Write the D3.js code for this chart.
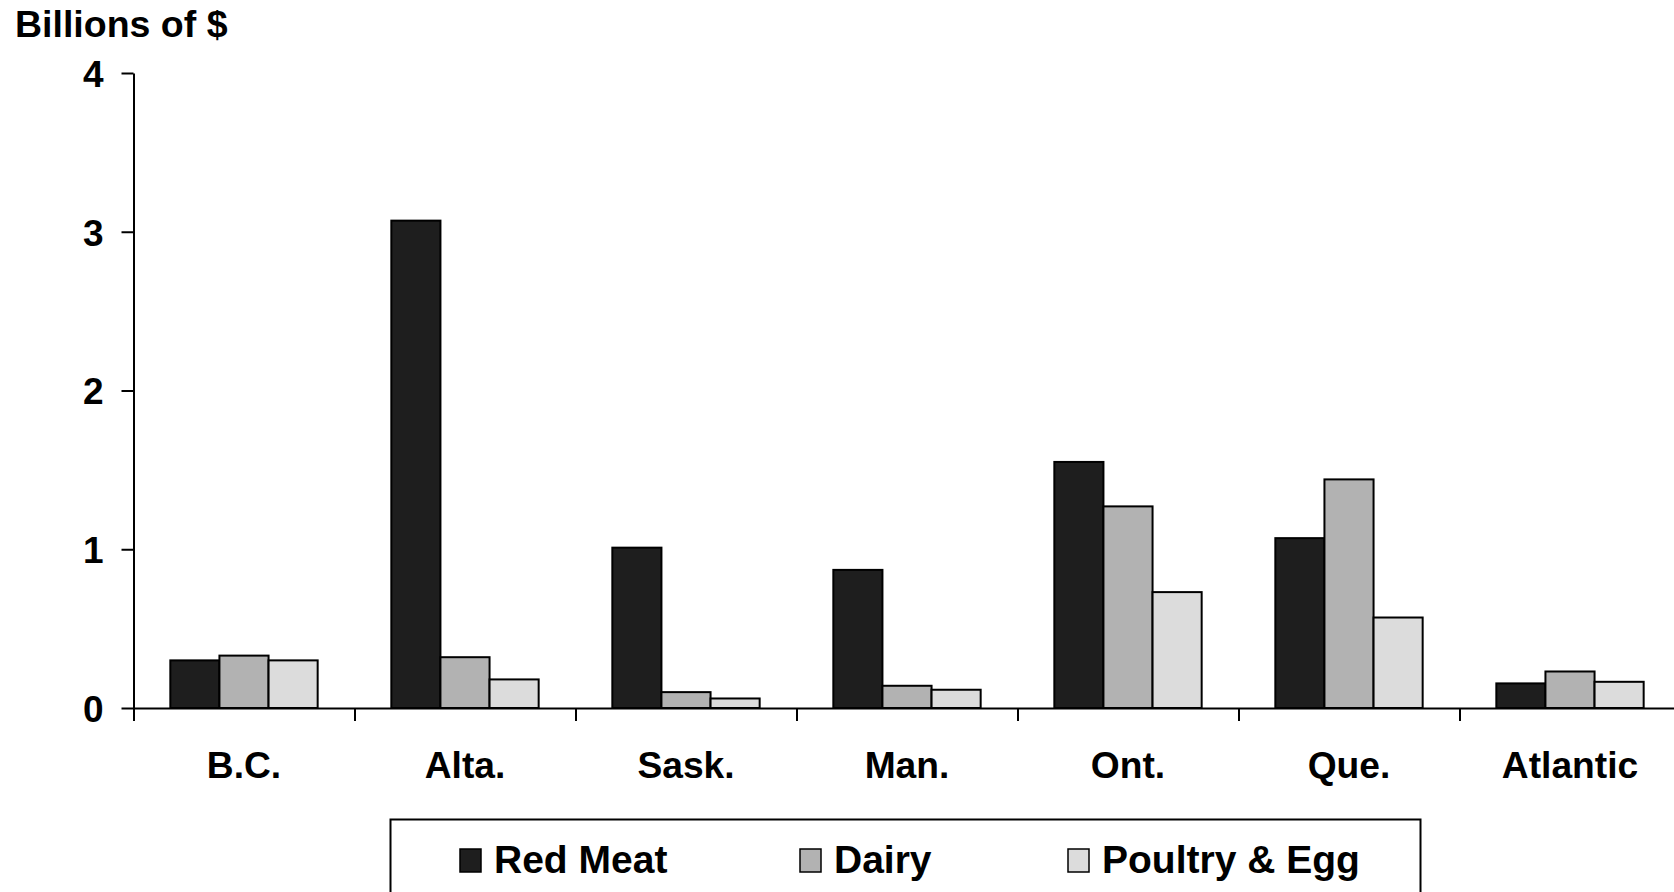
<!DOCTYPE html>
<html>
<head>
<meta charset="utf-8">
<script src="https://cdn.jsdelivr.net/npm/d3@7"></script>
<style>
  html, body { margin: 0; padding: 0; background: #fff; overflow: hidden; }
  svg { display: block; }
  text { font-family: "Liberation Sans", Arial, sans-serif; font-weight: bold; fill: #000; }
</style>
</head>
<body>
<svg id="chart" width="1674" height="892"></svg>
<script>
const categories = ["B.C.", "Alta.", "Sask.", "Man.", "Ont.", "Que.", "Atlantic"];
const seriesNames = ["Red Meat", "Dairy", "Poultry & Egg"];
const redMeat = [0.30, 3.07, 1.01, 0.87, 1.55, 1.07, 0.155];
const dairy   = [0.33, 0.32, 0.10, 0.14, 1.27, 1.44, 0.23];
const poultry = [0.30, 0.18, 0.06, 0.115, 0.73, 0.57, 0.165];
const yTicks = [0, 1, 2, 3, 4];
const yTitle = "Billions of $";
const colors = ["#1e1e1e", "#b2b2b2", "#dcdcdc"];

const seriesValues = [redMeat, dairy, poultry];

const svg = d3.select("#chart");
const plotLeft = 133.5, bandStep = 221, plotTop = 73, plotBottom = 708;
const plotRight = plotLeft + bandStep * categories.length;

const x0 = d3.scaleBand().domain(categories).range([plotLeft, plotRight]).padding(0);
const x1 = d3.scaleBand().domain(seriesNames).range([0, x0.bandwidth()]).paddingInner(0).paddingOuter(0.75);
const y = d3.scaleLinear().domain([0, 4]).range([plotBottom, plotTop]);
const xb = d3.scaleLinear().domain([0, categories.length]).range([plotLeft, plotRight]);

// bars
const groups = svg.append("g").selectAll("g")
  .data(categories)
  .join("g")
  .attr("transform", d => `translate(${x0(d)},0)`);

groups.selectAll("rect")
  .data((c, i) => seriesNames.map((s, j) => ({ s, j, v: seriesValues[j][i] })))
  .join("rect")
  .attr("x", d => x1(d.s))
  .attr("width", x1.bandwidth())
  .attr("y", d => y(d.v))
  .attr("height", d => y(0) - y(d.v))
  .attr("fill", d => colors[d.j])
  .attr("stroke", "#000")
  .attr("stroke-width", 2);

// y axis
const yAxis = svg.append("g")
  .attr("transform", `translate(${plotLeft},0)`)
  .call(d3.axisLeft(y).tickValues(yTicks).tickFormat(d3.format("d")).tickSize(12).tickSizeOuter(0).tickPadding(18));
yAxis.selectAll("path, line").attr("stroke", "#000").attr("stroke-width", 2);
yAxis.selectAll("text").attr("font-size", 37).attr("font-family", "'Liberation Sans', Arial, sans-serif").attr("font-weight", "bold").attr("fill", "#000").attr("dy", "0.36em");

// x axis (boundary ticks)
const xAxis = svg.append("g")
  .attr("transform", `translate(0,${plotBottom})`)
  .call(d3.axisBottom(xb).ticks(categories.length).tickFormat("").tickSize(13).tickSizeOuter(0));
xAxis.selectAll("path, line").attr("stroke", "#000").attr("stroke-width", 2);

// x labels
svg.append("g").selectAll("text")
  .data(categories)
  .join("text")
  .attr("x", d => x0(d) + x0.bandwidth() / 2)
  .attr("y", 778)
  .attr("text-anchor", "middle")
  .attr("font-size", 37.2)
  .text(d => d);

// y title
svg.append("text")
  .attr("x", 15)
  .attr("y", 37)
  .attr("font-size", 37.5)
  .text(yTitle);

// legend
const legend = svg.append("g");
legend.append("rect")
  .attr("x", 390.5).attr("y", 819.5)
  .attr("width", 1030).attr("height", 120)
  .attr("fill", "#fff").attr("stroke", "#000").attr("stroke-width", 2);
const legendX = [460, 800, 1068];
const items = legend.selectAll("g.item")
  .data(seriesNames)
  .join("g")
  .attr("class", "item")
  .attr("transform", (d, i) => `translate(${legendX[i]},849)`);
items.append("rect")
  .attr("width", 21).attr("height", 23)
  .attr("fill", (d, i) => colors[i])
  .attr("stroke", "#000").attr("stroke-width", 1.5);
items.append("text")
  .attr("x", 34).attr("y", 24)
  .attr("font-size", 39)
  .text(d => d);
</script>
</body>
</html>
